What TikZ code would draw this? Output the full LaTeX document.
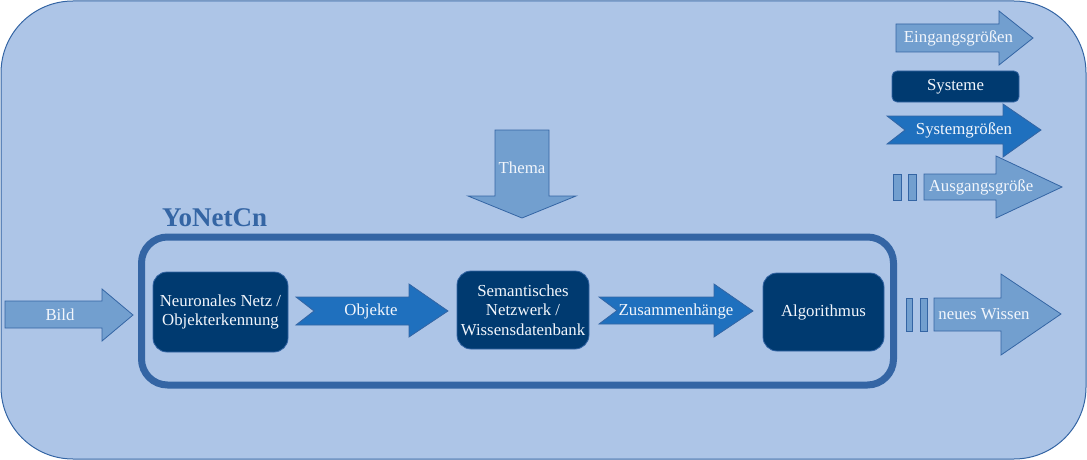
\documentclass[tikz,border=0pt]{standalone}
\usepackage{fontspec}
\setmainfont{Liberation Serif}
\usepackage{tikz}

\definecolor{bgblau}{HTML}{ADC5E7}
\definecolor{rand}{HTML}{3465A4}
\definecolor{eingang}{HTML}{729FCF}
\definecolor{system}{HTML}{003A70}
\definecolor{sysgr}{HTML}{1F70BE}
\definecolor{schrift}{HTML}{F2F6FC}

\tikzset{
  ingr/.style={fill=eingang, draw=rand, line width=0.8pt, line join=miter},
  sysarrow/.style={fill=sysgr, draw=rand, line width=0.8pt, line join=miter},
  sysbox/.style={fill=system, draw=rand, line width=0.8pt, rounded corners=14pt},
  lbl/.style={text=schrift, font=\fontsize{16.8}{19.5}\selectfont, align=center, inner sep=0pt}
}

\begin{document}
\begin{tikzpicture}[x=1pt, y=-1pt]
        \useasboundingbox (0,0) rectangle (1087,460);

        % Hintergrund
        \draw[fill=bgblau, draw=rand, line width=1pt, rounded corners=72pt] (1,1) rectangle (1086,459);

        % Rahmen YoNetCn
        \draw[draw=rand, line width=7pt, rounded corners=26pt] (141.5,237) rectangle (893.5,385);
        \node[text=rand, font=\fontsize{27}{30}\selectfont\bfseries, anchor=west, inner sep=0pt] (titel) at (162,218) {YoNetCn};

        % Eingangsgroessen
        \draw[ingr] (5,301) -- (102,301) -- (102,289) -- (133,315) -- (102,341) -- (102,328) -- (5,328) -- cycle;
        \node[lbl] (bild) at (60,315) {Bild};
        \draw[ingr] (495,130) -- (549,130) -- (549,196) -- (576,196) -- (522,218) -- (468,196) -- (495,196) -- cycle;
        \node[lbl] (thema) at (522,168) {Thema};

        % Systeme
        \draw[sysbox] (153,272) rectangle (288,352);
        \node[lbl] (netz) at (220.5,312) {Neuronales Netz /\\Objekterkennung};
        \draw[sysbox] (457,271) rectangle (589,349);
        \node[lbl] (wissen) at (523,310) {Semantisches\\Netzwerk /\\Wissensdatenbank};
        \draw[sysbox] (763,273) rectangle (884,351);
        \node[lbl] (algo) at (823.5,312) {Algorithmus};

        % Systemgroessen
        \draw[sysarrow] (296,297) -- (409,297) -- (409,284) -- (448,311) -- (409,337) -- (409,325) -- (296,325) -- (314,311) -- cycle;
        \node[lbl] (objekte) at (371,311) {Objekte};
        \draw[sysarrow] (599,297) -- (714,297) -- (714,284) -- (753,311) -- (714,337) -- (714,324) -- (599,324) -- (617,310.5) -- cycle;
        \node[lbl] (zusammen) at (676,311) {Zusammenhänge};

        % Ausgangsgroesse
        \draw[ingr] (906,298) rectangle (912,331);
        \draw[ingr] (920,298) rectangle (927,331);
        \draw[ingr] (934,298) -- (1001,298) -- (1001,274) -- (1061,314) -- (1001,355) -- (1001,331) -- (934,331) -- cycle;
        \node[lbl] (neu) at (984,314) {neues Wissen};

        % Legende
        \draw[ingr] (896,24) -- (999,24) -- (999,11) -- (1033,38) -- (999,65) -- (999,52) -- (896,52) -- cycle;
        \node[lbl] (leg1) at (958.5,38) {Eingangsgrößen};
        \draw[sysbox, rounded corners=5pt] (892,71) rectangle (1019,102);
        \node[lbl] (leg2) at (955.5,86.5) {Systeme};
        \draw[sysarrow] (887,116) -- (1003,116) -- (1003,104) -- (1041,130) -- (1003,157) -- (1003,144) -- (887,144) -- (905,130) -- cycle;
        \node[lbl] (leg3) at (964,130) {Systemgrößen};
        \draw[ingr] (893,174) rectangle (901,200);
        \draw[ingr] (908,174) rectangle (916,200);
        \draw[ingr] (924,174) -- (996,174) -- (996,156) -- (1062,187) -- (996,218) -- (996,200) -- (924,200) -- cycle;
        \node[lbl] (leg4) at (981,187) {Ausgangsgröße};
\end{tikzpicture}
\end{document}
